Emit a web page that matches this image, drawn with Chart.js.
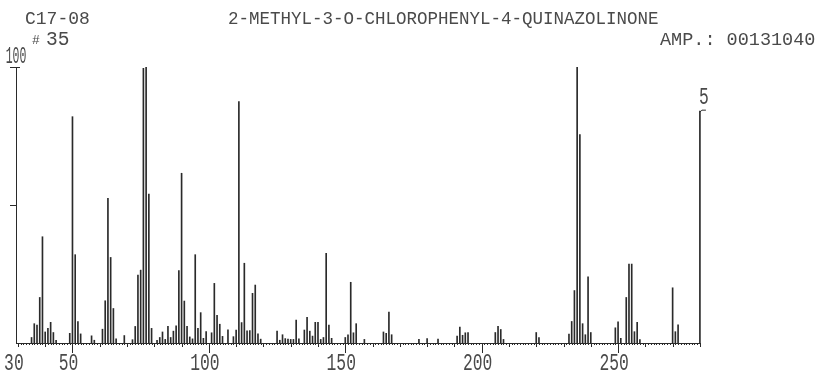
<!DOCTYPE html>
<html><head><meta charset="utf-8">
<script src="https://cdn.jsdelivr.net/npm/chart.js@4.4.0/dist/chart.umd.min.js"></script>
<style>html,body{margin:0;padding:0;background:#fff;}canvas{display:block;}</style>
</head><body>
<canvas id="c" width="823" height="378"></canvas>
<script>
// ---- data (m/z and relative intensity, %) ----
const massValues = [
  35,36,37,38,39,40,41,42,43,44,49,50,51,52,53,57,58,61,62,63,64,65,66,69,72,73,74,75,76,77,78,79,
  81,82,83,84,85,86,87,88,89,90,91,92,93,94,95,96,97,98,99,101,102,103,104,105,107,109,110,111,112,
  113,114,115,116,117,118,119,125,126,127,128,129,130,131,132,133,135,136,137,138,139,140,141,142,
  143,144,145,150,151,152,153,154,157,164,165,166,167,177,180,184,191,192,193,194,195,205,206,207,
  208,220,221,232,233,234,235,236,237,238,239,240,249,250,251,253,254,255,256,257,258,270,271,272,280
];
const intensities = [
  2,7,6.5,16.5,38.5,4,5.3,7.5,3.8,1,3.5,82,32,7.8,3.3,2.6,1,5,15.3,52.4,31,12.5,1.5,2.7,1.2,6,24.6,26.4,99.5,100,54,5.3,
  1,2,4,1.3,6,2,4.3,6.2,26.2,61.5,15.2,6,2.2,1.5,32,5.3,11,1.7,4.1,3.7,21.6,10,6.8,2.4,4.8,2.3,4.7,87.5,7.4,
  28.9,4.4,4.5,18,21,3.3,1.4,4.3,1,3,1.6,1.4,1.3,1.3,8.3,1.5,4.7,9.3,4.3,2.5,7.5,7.5,1.3,2,
  32.5,6.5,1.7,2,3,22,3.7,7,1.3,4,3.5,11.2,3,1.3,1.6,1.4,2.5,5.8,2.8,3.7,3.8,3.8,6,4.9,
  1.3,3.8,2,3.2,7.8,19,100,75.5,7,3,24,3.8,5.5,7.7,1.7,16.5,28.6,28.6,4.1,7.5,1.2,20,4.1,6.6,84
];
const xTickValues = [30, 50, 100, 150, 200, 250];
const yTickValues = [50, 100];
const headerId = "C17-08";
const scanNumber = "35";
const compoundName = "2-METHYL-3-O-CHLOROPHENYL-4-QUINAZOLINONE";
const ampText = "AMP.: 00131040";
const markerLabel = "5";

const points = massValues.map((m, i) => ({ x: m, y: intensities[i] }));
const INK = '#2a2a2a';
const TXT = '#4a4a4a';

function drawText(ctx, str, x, y, size, sx, align) {
  ctx.save();
  ctx.font = size + 'px "Liberation Mono", "DejaVu Sans Mono", monospace';
  ctx.fillStyle = TXT;
  ctx.textBaseline = 'alphabetic';
  ctx.textAlign = align || 'left';
  ctx.translate(x, y);
  ctx.scale(sx, 1);
  ctx.fillText(str, 0, 0);
  ctx.restore();
}

const axisPlugin = {
  id: 'plotterAxes',
  afterDatasetsDraw(chart) {
    const ctx = chart.ctx;
    const xs = chart.scales.x, ys = chart.scales.y;
    const y0 = ys.getPixelForValue(0);
    const yTop = ys.getPixelForValue(100);
    const xL = chart.chartArea.left, xR = chart.chartArea.right;
    ctx.save();
    ctx.strokeStyle = INK;
    ctx.lineWidth = 1;
    ctx.beginPath();
    ctx.moveTo(xL, y0 + 0.5); ctx.lineTo(xR, y0 + 0.5);
    ctx.moveTo(xL + 0.5, y0); ctx.lineTo(xL + 0.5, yTop);
    ctx.moveTo(xL - 3, yTop + 0.5); ctx.lineTo(xL + 4, yTop + 0.5);
    yTickValues.forEach(v => {
      const p = Math.round(ys.getPixelForValue(v)) + 0.5;
      ctx.moveTo(xL - 6, p); ctx.lineTo(xL, p);
    });
    for (let m = Math.ceil(xs.min); m <= Math.floor(xs.max); m++) {
      const p = Math.round(xs.getPixelForValue(m)) + 0.5;
      const len = (m % 50 === 0) ? 10 : (m % 10 === 0 ? 4 : 2);
      ctx.moveTo(p, y0); ctx.lineTo(p, y0 + len);
    }
    ctx.stroke();
    const lastX = xs.getPixelForValue(massValues[massValues.length - 1]);
    const lastY = ys.getPixelForValue(intensities[intensities.length - 1]);
    ctx.beginPath();
    ctx.moveTo(lastX, lastY + 1); ctx.lineTo(lastX + 2, lastY - 1); ctx.lineTo(lastX + 6, lastY - 1);
    ctx.stroke();
    ctx.restore();

    xTickValues.forEach(v => {
      drawText(ctx, String(v), xs.getPixelForValue(v) - 4, 370, 24, 0.68, 'center');
    });
    drawText(ctx, String(yTickValues[yTickValues.length - 1]), 16, 63, 23, 0.5, 'center');
    drawText(ctx, markerLabel, lastX + 4, 104, 24, 0.68, 'center');
    drawText(ctx, headerId, 25, 24, 18, 1, 'left');
    drawText(ctx, '#', 32, 44, 13, 1, 'left');
    drawText(ctx, scanNumber, 46, 45, 19.5, 1, 'left');
    drawText(ctx, compoundName, 228, 24, 17.5, 1, 'left');
    drawText(ctx, ampText, 660, 45, 18.5, 1, 'left');
  }
};

new Chart(document.getElementById('c'), {
  type: 'bar',
  data: {
    datasets: [{
      data: points,
      backgroundColor: INK,
      borderWidth: 0,
      barThickness: 1,
      grouped: false
    }]
  },
  options: {
    responsive: false,
    animation: false,
    devicePixelRatio: 1,
    layout: { padding: { left: 16, right: 122, top: 67, bottom: 35 } },
    plugins: { legend: { display: false }, tooltip: { enabled: false }, title: { display: false } },
    scales: {
      x: { type: 'linear', min: 29.3, max: 280.4, offset: false, display: false },
      y: { type: 'linear', min: 0, max: 100, display: false }
    }
  },
  plugins: [axisPlugin]
});
</script>
</body></html>
